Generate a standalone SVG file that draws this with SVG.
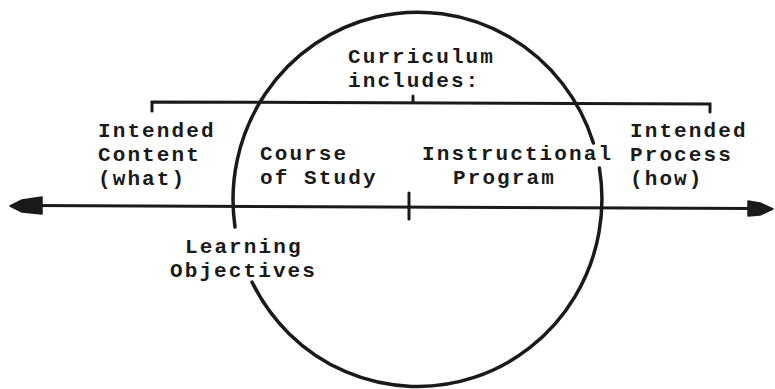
<svg xmlns="http://www.w3.org/2000/svg" width="775" height="389" viewBox="0 0 775 389">
  <style>
    .ink { fill: none; stroke: #1a1a1a; stroke-width: 3.5; stroke-linecap: round; }
    .thin { fill: none; stroke: #1a1a1a; stroke-width: 3; stroke-linecap: round; }
    .head { fill: #1a1a1a; stroke: #1a1a1a; stroke-width: 1.5; stroke-linejoin: round; }
    text { font-family: "Liberation Mono", "Courier New", monospace; font-weight: bold; font-size: 21px; letter-spacing: 2.1px; fill: #1a1a1a; }
  </style>

  <rect width="775" height="389" fill="#ffffff"/>

  <!-- large circle, broken where labels cross it -->
  <g id="circle">
    <path class="ink" d="M 235,227 A 184.5 187.5 0 0 1 593.4,143"/>
    <path class="ink" d="M 599.4,168 A 184.5 187.5 0 0 1 252,282"/>
  </g>

  <g id="connectors">
    <!-- bracket over the curriculum span -->
    <path class="thin" d="M 152,111 L 152,102 L 710,104 L 710,112"/>
    <path class="thin" d="M 413,96 L 413,102"/>
    <!-- content-process axis -->
    <path class="thin" d="M 30,205.5 L 755,208.5"/>
    <path class="thin" d="M 409,193 L 409,219"/>
    <polygon class="head" points="10,206 22,200 42,197 42,214 22,212"/>
    <polygon class="head" points="773,209 760,203 748,201 748,216 760,215"/>
  </g>

  <g id="curriculum">
    <text x="348" y="63">Curriculum</text>
    <text x="348" y="87">includes:</text>
  </g>
  <g id="intended-content">
    <text x="98" y="137">Intended</text>
    <text x="98" y="161">Content</text>
    <text x="98" y="185">(what)</text>
  </g>
  <g id="course-of-study">
    <text x="260" y="160">Course</text>
    <text x="260" y="184">of Study</text>
  </g>
  <g id="instructional-program">
    <text x="422" y="160">Instructional</text>
    <text x="453" y="184">Program</text>
  </g>
  <g id="intended-process">
    <text x="630" y="137">Intended</text>
    <text x="630" y="161">Process</text>
    <text x="630" y="185">(how)</text>
  </g>
  <g id="learning-objectives">
    <text x="185" y="253">Learning</text>
    <text x="170" y="277">Objectives</text>
  </g>
</svg>
